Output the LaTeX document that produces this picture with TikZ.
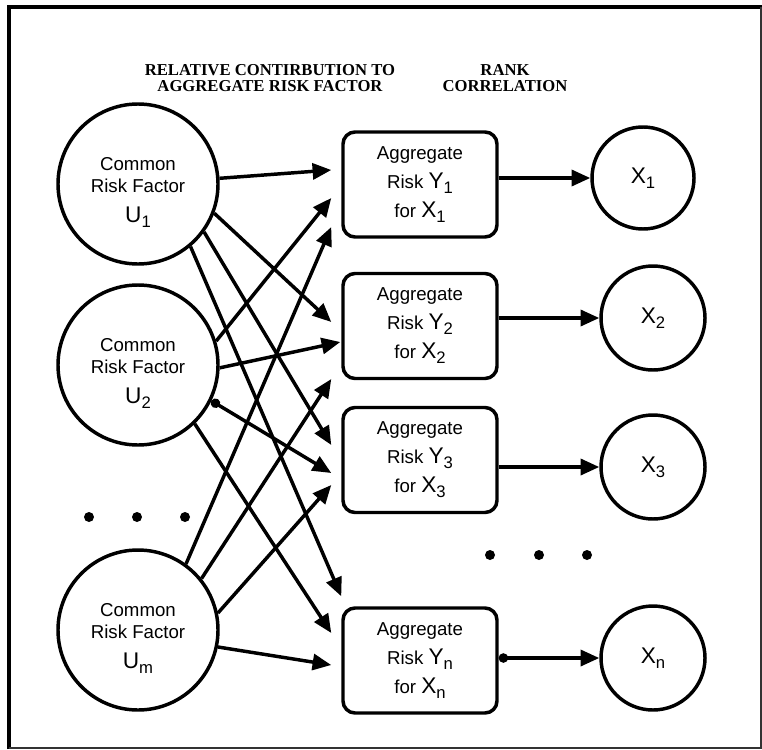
\documentclass[tikz,border=0pt]{standalone}
\usepackage{fontspec}
\setmainfont{Liberation Sans}
\newfontfamily\headfont{Liberation Serif}
\usetikzlibrary{arrows.meta,positioning}
\newcommand{\bigvar}[2]{{\fontsize{17pt}{19pt}\selectfont #1}\raisebox{-3.75pt}{\fontsize{12.5pt}{14pt}\selectfont #2}}

\begin{document}
\begin{tikzpicture}[x=0.75pt,y=-0.75pt,
  risk/.style={circle,draw,line width=2.6pt,minimum size=120pt,inner sep=0pt,align=center,
    font=\fontsize{14pt}{16.3pt}\selectfont},
  agg/.style={rectangle,draw,line width=2.6pt,rounded corners=9pt,minimum width=115.5pt,
    minimum height=78.75pt,inner sep=0pt,align=center,font=\fontsize{14pt}{21.75pt}\selectfont},
  outcome/.style={circle,draw,line width=2.6pt,minimum size=78pt,inner sep=0pt},
  head/.style={align=center,font=\headfont\bfseries\fontsize{12.5pt}{11.5pt}\selectfont},
  bullet/.style={circle,fill,inner sep=0pt,minimum size=7.5pt},
  arrow/.style={-{Triangle[length=14pt,width=12pt]},line width=2.6pt},
  dotarrow/.style={{Circle[length=7pt]}-{Triangle[length=14pt,width=12pt]},line width=2.6pt}]
\useasboundingbox (0,0) rectangle (762,749);
% frame
\draw[line width=3pt] (9,749) -- (9,7.5) -- (762,7.5);
\draw[line width=0.9pt,black!80] (9,748) -- (761,748) -- (761,7.5);
% headings
\node[head] (hcontrib) at (270,78) {RELATIVE CONTIRBUTION TO\\AGGREGATE RISK FACTOR};
\node[head] (hrank) at (505,78) {RANK\\CORRELATION};
% common risk factors
\node[risk] (u1) at (138,184) {\rule{0pt}{22pt}Common\\Risk Factor\\[6.2pt]\bigvar{U}{1}};
\node[risk] (u2) at (138,365) {\rule{0pt}{22pt}Common\\Risk Factor\\[6.2pt]\bigvar{U}{2}};
\node[risk] (um) at (138,630) {\rule{0pt}{22pt}Common\\Risk Factor\\[6.2pt]\bigvar{U}{m}};
\node[bullet] (ld1) at (89,517) {};
\node[bullet] (ld2) at (137,517) {};
\node[bullet] (ld3) at (185,517) {};
% aggregate risks
\node[agg] (y1) at (420,184.5) {Aggregate\\Risk \bigvar{Y}{1}\\for \bigvar{X}{1}};
\node[agg] (y2) at (420,326) {Aggregate\\Risk \bigvar{Y}{2}\\for \bigvar{X}{2}};
\node[agg] (y3) at (420,460) {Aggregate\\Risk \bigvar{Y}{3}\\for \bigvar{X}{3}};
\node[agg] (yn) at (420,660.5) {Aggregate\\Risk \bigvar{Y}{n}\\for \bigvar{X}{n}};
% outcomes
\node[outcome,minimum size=76.5pt] (x1) at (643,178) {\bigvar{X}{1}};
\node[outcome] (x2) at (653,318) {\bigvar{X}{2}};
\node[outcome] (x3) at (653,467) {\bigvar{X}{3}};
\node[outcome] (xn) at (653,658) {\bigvar{X}{n}};
\node[bullet] (rd1) at (490,555) {};
\node[bullet] (rd2) at (539,555) {};
\node[bullet] (rd3) at (587,555) {};
% contributions
\draw[arrow] (u1.4) -- ([shift={(-10,-14.5)}]y1.west);
\draw[arrow] (u1.-21) -- ([shift={(-10,-4)}]y2.west);
\draw[arrow] (u1.-36) -- ([shift={(-10,-15)}]y3.west);
\draw[arrow] (u1.-50) -- ([shift={(0,-10)}]yn.north west);
\draw[arrow] (u2.17) -- ([shift={(-10,13.5)}]y1.west);
\draw[arrow] (u2.-2) -- ([shift={(-1,16)}]y2.west);
\draw[dotarrow] (u2.-26) -- ([shift={(-10,13)}]y3.west);
\draw[arrow] (u2.-46) -- ([shift={(-10,-27.5)}]yn.west);
\draw[arrow] (um.54) -- ([shift={(-10,42.5)}]y1.west);
\draw[arrow] (um.39) -- ([shift={(-10,53)}]y2.west);
\draw[arrow] (um.12) -- ([shift={(-10,25)}]y3.west);
\draw[arrow] (um.-12) -- ([shift={(-10,4.5)}]yn.west);
% rank correlation
\draw[arrow] (y1.east |- x1.west) -- (x1.west);
\draw[arrow] (y2.east |- x2.west) -- (x2.west);
\draw[arrow] (y3.east |- x3.west) -- (x3.west);
\draw[dotarrow] (yn.east |- xn.west) -- (xn.west);
\end{tikzpicture}
\end{document}
